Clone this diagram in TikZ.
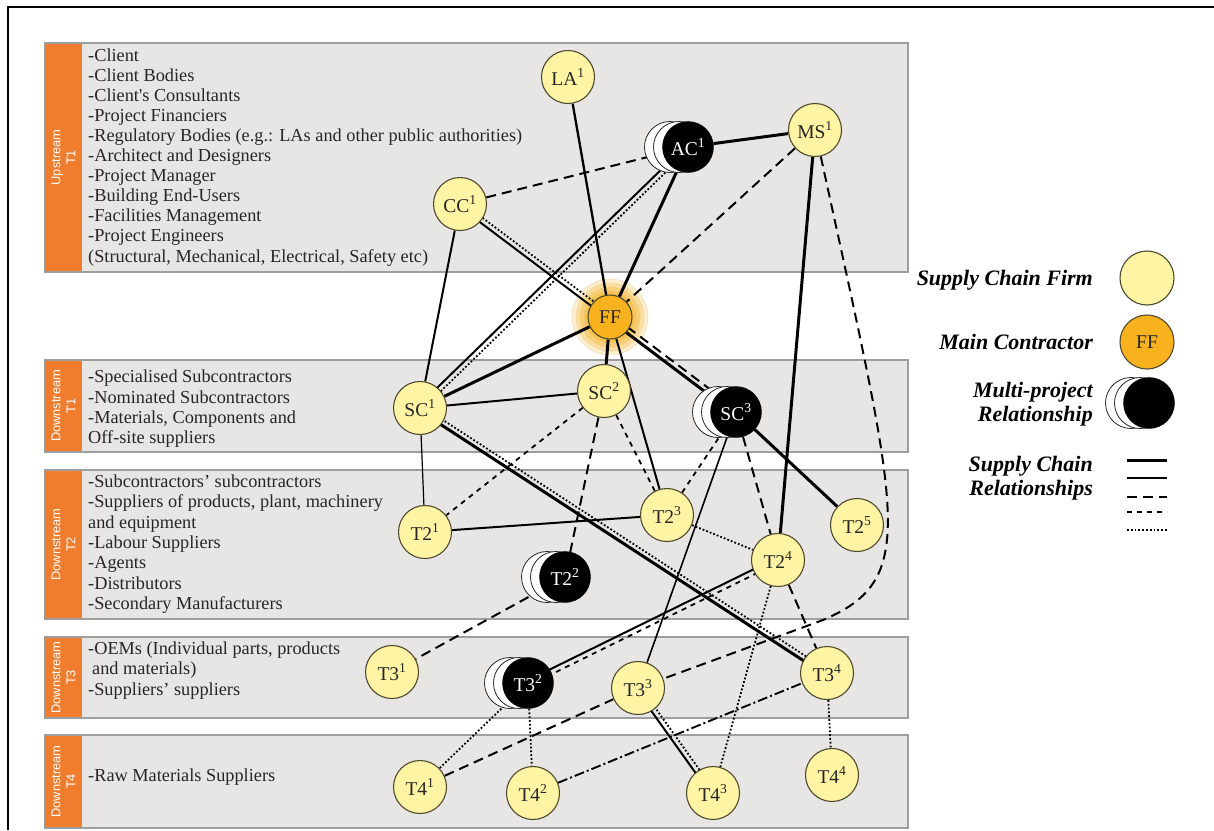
\documentclass[tikz,border=0pt]{standalone}
\usepackage{fontspec}
\setmainfont{Liberation Serif}
\newfontfamily\tabsans{Liberation Sans}
\usepackage{xcolor}
\usetikzlibrary{calc}

\definecolor{firmfill}{HTML}{FFF4A3}
\definecolor{firmline}{HTML}{4D4A2E}
\definecolor{ffill}{HTML}{F7B21E}
\definecolor{taborange}{HTML}{F07D2D}
\definecolor{bandgrey}{HTML}{E8E6E5}
\definecolor{bandline}{HTML}{9E9E9E}

\pgfdeclarelayer{bands}
\pgfdeclarelayer{links}
\pgfsetlayers{bands,links,main}

% multi-project firm: two ghost rings behind a black node
\newcommand{\multinode}[3]{%
  \node[ghost] (#1-g2) at ($(#2)+(-18,0)$) {};
  \node[ghost] (#1-g1) at ($(#2)+(-9,0)$) {};
  \node[multifirm] (#1) at (#2) {#3};}
% two relationships side by side between the same firms
\newcommand{\pairlink}[4]{%
  \draw[#1] ($(#3)!2.5pt!90:(#4)$) -- ($(#4)!2.5pt!-90:(#3)$);
  \draw[#2] ($(#3)!2.5pt!-90:(#4)$) -- ($(#4)!2.5pt!90:(#3)$);}

\begin{document}
\begin{tikzpicture}[x=1pt, y=-1pt,
    band/.style={fill=bandgrey, draw=bandline, line width=1.3pt},
    tablabel/.style={rotate=90, text=white, align=center, inner sep=0pt,
      font=\tabsans\fontsize{12.8}{15}\selectfont},
    bandtext/.style={anchor=base west, inner sep=0pt, text=black!85,
      font=\fontsize{18.3}{20}\selectfont},
    firm/.style={circle, draw=firmline, fill=firmfill, line width=1.1pt,
      minimum size=53pt, inner sep=0pt, text=black!85, font=\fontsize{19.5}{19.5}\selectfont},
    mainfirm/.style={firm, fill=ffill, minimum size=44pt},
    multifirm/.style={circle, draw=black, fill=black, minimum size=51pt,
      inner sep=0pt, text=white, font=\fontsize{19.5}{19.5}\selectfont},
    ghost/.style={circle, draw=black!85, fill=white, line width=0.8pt, minimum size=51pt},
    legtext/.style={anchor=east, align=right, inner sep=0pt,
      font=\fontsize{22}{23.5}\selectfont\bfseries\itshape},
    relthick/.style={line width=3pt},
    relsolid/.style={line width=2pt},
    relthin/.style={line width=1.2pt},
    reldash/.style={line width=2pt, dash pattern=on 10pt off 6pt},
    relshort/.style={line width=1.8pt, dash pattern=on 5pt off 5pt},
    reldashdot/.style={line width=1.9pt, dash pattern=on 10pt off 3pt on 2pt off 3pt},
    reldot/.style={line width=1.8pt, dash pattern=on 1.8pt off 2pt}]

  \useasboundingbox (0,0) rectangle (1214,830);
  \draw[line width=2pt] (1214,7) -- (8,7) -- (8,830);

  % tiers
  \begin{pgfonlayer}{bands}
    \foreach \ytop/\ybot/\side/\tier in {43/272/Upstream/T1, 360/452/Downstream/T1,
        470/619/Downstream/T2, 637/718/Downstream/T3, 735/828/Downstream/T4} {
      \draw[band] (45,\ytop) rectangle (908,\ybot);
      \fill[taborange] (45,{\ytop+0.7}) rectangle (82,{\ybot-0.7});
      \node[tablabel] (tab-\side-\tier) at (63.5,{(\ytop+\ybot)/2}) {\side\\\tier};
    }
  \end{pgfonlayer}

  \foreach \txt [count=\i from 0] in {-Client, -Client Bodies,
      -Client\textquotesingle s Consultants, -Project Financiers,
      -Regulatory Bodies (e.g.: LAs and other public authorities),
      -Architect and Designers, -Project Manager, -Building End-Users,
      -Facilities Management, -Project Engineers,
      {(Structural, Mechanical, Electrical, Safety etc)}}
    \node[bandtext] (up-\i) at (88,{61.5+20.05*\i}) {\txt};
  \foreach \txt [count=\i from 0] in {-Specialised Subcontractors,
      -Nominated Subcontractors, {-Materials, Components and}, Off-site suppliers}
    \node[bandtext] (dt1-\i) at (88,{382.7+20.4*\i}) {\txt};
  \foreach \txt [count=\i from 0] in {-Subcontractors' subcontractors,
      {-Suppliers of products, plant, machinery}, and equipment, -Labour Suppliers,
      -Agents, -Distributors, -Secondary Manufacturers}
    \node[bandtext] (dt2-\i) at (88,{487.7+20.27*\i}) {\txt};
  \foreach \txt [count=\i from 0] in {{-OEMs (Individual parts, products},
      \hspace{4pt}and materials), -Suppliers' suppliers}
    \node[bandtext] (dt3-\i) at (88,{654+20.5*\i}) {\txt};
  \node[bandtext] (dt4-0) at (88,781.7) {-Raw Materials Suppliers};

  % firms
  \node[firm] (la1) at (568,77) {LA\textsuperscript{1}};
  \multinode{ac1}{688,147}{AC\textsuperscript{1}}
  \node[firm] (ms1) at (815,130) {MS\textsuperscript{1}};
  \node[firm] (cc1) at (460,204) {CC\textsuperscript{1}};
  \node[mainfirm] (ff) at (610,317) {FF};
  \node[firm] (sc1) at (420,408) {SC\textsuperscript{1}};
  \node[firm] (sc2) at (604,391) {SC\textsuperscript{2}};
  \multinode{sc3}{736,412}{SC\textsuperscript{3}}
  \node[firm] (t21) at (425,532) {T2\textsuperscript{1}};
  \multinode{t22}{565,577}{T2\textsuperscript{2}}
  \node[firm] (t23) at (667,515) {T2\textsuperscript{3}};
  \node[firm] (t24) at (778,560) {T2\textsuperscript{4}};
  \node[firm] (t25) at (857,525) {T2\textsuperscript{5}};
  \node[firm] (t31) at (392,672) {T3\textsuperscript{1}};
  \multinode{t32}{528,683}{T3\textsuperscript{2}}
  \node[firm] (t33) at (638,688) {T3\textsuperscript{3}};
  \node[firm] (t34) at (827,673) {T3\textsuperscript{4}};
  \node[firm] (t41) at (420,787) {T4\textsuperscript{1}};
  \node[firm] (t42) at (533,793) {T4\textsuperscript{2}};
  \node[firm] (t43) at (713,793) {T4\textsuperscript{3}};
  \node[firm] (t44) at (832,775) {T4\textsuperscript{4}};

  \begin{pgfonlayer}{links}
    % glow round the main contractor
    \foreach \rr/\op in {38/0.22, 34/0.28, 30/0.34, 26/0.42}
      \filldraw[fill=ffill, draw=ffill!70!black!40, line width=0.6pt, fill opacity=\op,
        draw opacity=0.5] (ff.center) circle[radius=\rr pt];
    % upstream
    \draw[relsolid, line width=2.3pt] (la1) -- (ff);
    \draw[relthick] (ac1) -- (ms1);
    \draw[reldash] (cc1) -- (ac1);
    \draw[relthick] (ac1) -- (ff);
    \draw[reldash] (ms1) -- (ff);
    \draw[relthick] (ms1) -- (t24);
    \coordinate (msbend) at (823,620);
    \draw[reldash] (ms1) .. controls (900,520) and (919,579) .. (msbend) -- (t33);
    \pairlink{relsolid}{reldot}{ff}{cc1}
    \draw[relsolid] (cc1) -- (sc1);
    \pairlink{relsolid}{reldot}{sc1}{ac1}
    % main contractor
    \draw[relthick] (ff) -- (sc1);
    \draw[relthick] (ff) -- (sc2);
    \draw[relsolid] (ff) -- (t23);
    \pairlink{relthick}{reldash}{sc3}{ff}
    % tier 1 and 2
    \draw[relsolid] (sc1) -- (sc2);
    \draw[relthin] (sc1) -- (t21);
    \pairlink{relthick}{reldot}{t34}{sc1}
    \draw[relshort] (sc2) -- (t21);
    \draw[reldash] (sc2) -- (t22);
    \draw[relshort] (sc2) -- (t23);
    \draw[relshort] (t23) -- (sc3);
    \draw[relsolid] (t21) -- (t23);
    \draw[reldot] (t23) -- (t24);
    \draw[relthick] (sc3) -- (t25);
    \draw[reldash] (sc3) -- (t24);
    \draw[relsolid, line width=1.6pt] (sc3) -- (t33);
    \draw[reldash] (t24) -- (t34);
    \draw[reldot] (t24) -- (t43);
    \pairlink{relsolid}{relshort}{t32}{t24}
    \draw[reldash] (t22) -- (t31);
    % tier 3 and 4
    \draw[reldash] (t41) -- (t33);
    \draw[reldot] (t32) -- (t41);
    \draw[reldot] (t32) -- (t42);
    \pairlink{relsolid}{reldot}{t43}{t33}
    \draw[reldashdot] (t42) -- (t34);
    \draw[reldot] (t34) -- (t44);
  \end{pgfonlayer}

  % legend
  \node[legtext] (leg-firm) at (1093,280) {Supply Chain Firm};
  \node[firm, minimum size=54pt] (legfirm) at (1147,278) {};
  \node[legtext] (leg-main) at (1093,342) {Main Contractor};
  \node[mainfirm, minimum size=54pt] (legff) at (1147,342) {FF};
  \node[legtext] (leg-multi) at (1093,404) {Multi-project\\Relationship};
  \multinode{legmulti}{1149,403}{}
  \node[legtext] (leg-rel) at (1093,478) {Supply Chain\\Relationships};
  \foreach \yy/\sty in {460/relthick, 478/relsolid, 497/reldash, 512/relshort, 530/reldot}
    \draw[\sty] (1127,\yy) -- (1167,\yy);
\end{tikzpicture}
\end{document}
